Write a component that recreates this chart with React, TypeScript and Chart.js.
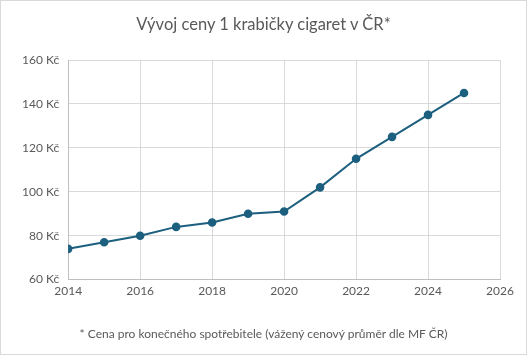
import React, { useEffect, useRef } from "react";
import { Chart, registerables } from "chart.js";

Chart.register(...registerables);

const years = [2014, 2015, 2016, 2017, 2018, 2019, 2020, 2021, 2022, 2023, 2024, 2025];
const prices = [74, 77, 80, 84, 86, 90, 91, 102, 115, 125, 135, 145];
const titleText = "Vývoj ceny 1 krabičky cigaret v ČR*";
const footnoteText = "* Cena pro konečného spotřebitele (vážený cenový průměr dle MF ČR)";
const currency = "Kč";

const FONT = "Lato, 'Open Sans', sans-serif";
const TEXT = "#595959";
const LINE = "#1c5f7e";

export default function App() {
  const ref = useRef<HTMLCanvasElement | null>(null);
  useEffect(() => {
    if (!ref.current) return;
    const chart = new Chart(ref.current, {
      type: "line",
      data: {
        datasets: [
          {
            data: years.map((y, i) => ({ x: y, y: prices[i] })),
            borderColor: LINE,
            backgroundColor: LINE,
            borderWidth: 2,
            pointRadius: 3.3,
            pointBackgroundColor: LINE,
            pointBorderColor: LINE,
            tension: 0,
          },
        ],
      },
      options: {
        animation: false,
        responsive: false,
        maintainAspectRatio: false,
        layout: { padding: { left: 12, right: 26, top: 59, bottom: 52 } },
        plugins: {
          legend: { display: false },
          tooltip: { enabled: false },
        },
        scales: {
          x: {
            type: "linear",
            min: 2014,
            max: 2026,
            ticks: {
              stepSize: 2,
              color: TEXT,
              font: { family: FONT, size: 12 },
              padding: 4,
              callback: (v: any) => String(v),
            },
            grid: { color: "#d9d9d9", drawTicks: false },
            border: { color: "#bfbfbf" },
          },
          y: {
            min: 60,
            max: 160,
            ticks: {
              stepSize: 20,
              color: TEXT,
              font: { family: FONT, size: 12 },
              padding: 9,
              callback: (v: any) => `${v} ${currency}`,
            },
            grid: { color: "#d9d9d9", drawTicks: false },
            border: { color: "#bfbfbf" },
          },
        },
      },
    });
    return () => chart.destroy();
  }, []);
  const textBase: React.CSSProperties = {
    position: "absolute",
    left: 0,
    width: "100%",
    textAlign: "center",
    color: TEXT,
    fontFamily: FONT,
    whiteSpace: "nowrap",
  };
  return (
    <div
      style={{
        position: "fixed",
        left: 0,
        top: 0,
        width: 527,
        height: 355,
        boxSizing: "border-box",
        border: "1px solid #d9d9d9",
        background: "#fff",
      }}
    >
      <canvas ref={ref} width={525} height={353} style={{ display: "block" }} />
      <div style={{ ...textBase, top: 13, fontSize: 16.5, lineHeight: "20px" }}>{titleText}</div>
      <div style={{ ...textBase, top: 325, fontSize: 12, lineHeight: "16px" }}>{footnoteText}</div>
    </div>
  );
}
